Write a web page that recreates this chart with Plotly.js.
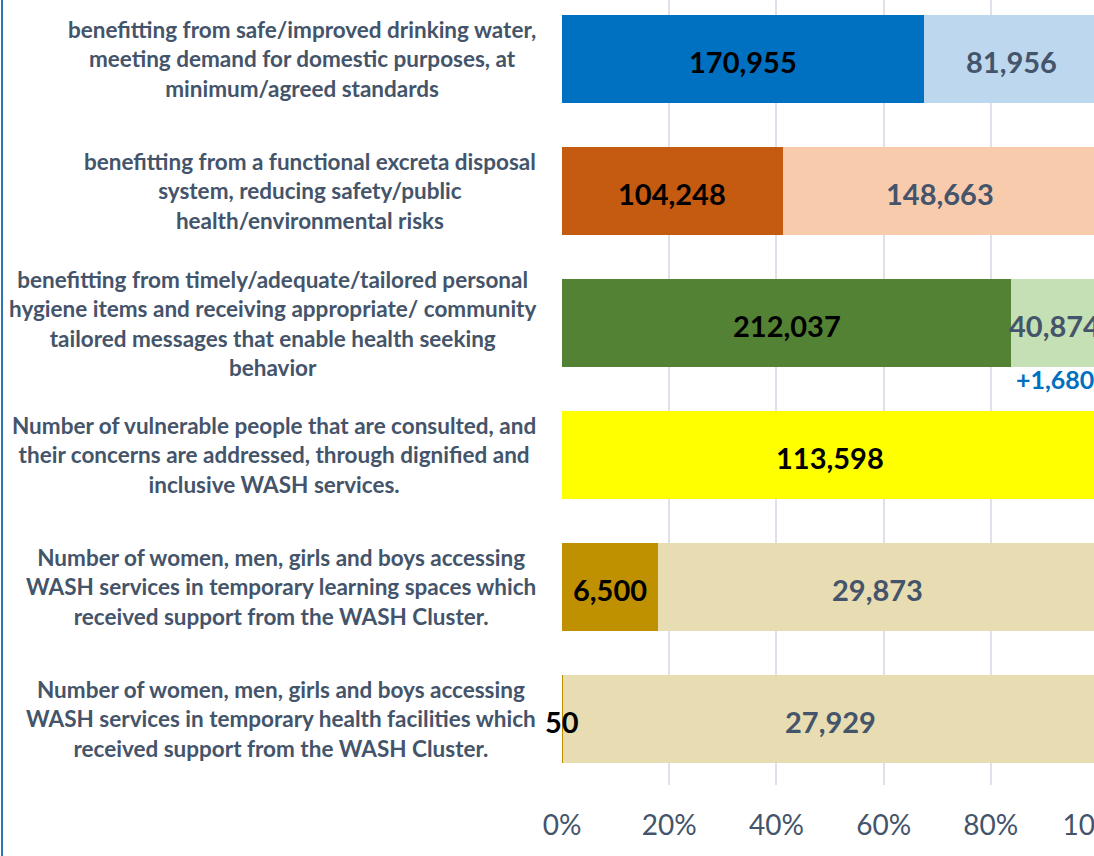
<!DOCTYPE html>
<html>
<head>
<meta charset="utf-8">
<script src="https://cdn.plot.ly/plotly-3.0.1.min.js"></script>
<style>
  html, body { margin: 0; padding: 0; width: 1094px; height: 856px; overflow: hidden; background: #fff; }
  #wrap { position: relative; width: 1094px; height: 856px; overflow: hidden; }
  #chart { position: absolute; left: 0; top: 0; width: 1100px; height: 856px; }
  #edge { position: absolute; left: 1px; top: 0; width: 2px; height: 856px; background: #2E75B6; }
</style>
</head>
<body>
<div id="wrap"><div id="chart"></div><div id="edge"></div></div>
<script>
const categories = [
  "benefitting from safe/improved drinking water,<br>meeting demand for domestic purposes, at<br>minimum/agreed standards",
  "benefitting from a functional excreta disposal<br>system, reducing safety/public<br>health/environmental risks",
  "benefitting from timely/adequate/tailored personal<br>hygiene items and receiving appropriate/ community<br>tailored messages that enable health seeking<br>behavior",
  "Number of vulnerable people that are consulted, and<br>their concerns are addressed, through dignified and<br>inclusive WASH services.",
  "Number of women, men, girls and boys accessing<br>WASH services in temporary learning spaces which<br>received support from the WASH Cluster.",
  "Number of women, men, girls and boys accessing<br>WASH services in temporary health facilities which<br>received support from the WASH Cluster."
];
const reached   = [170955, 104248, 212037, 113598, 6500, 50];
const remaining = [81956, 148663, 40874, null, 29873, 27929];
const extraIndex = 2;
const extraLabel = "+1,680";
const xTicks = [0, 0.2, 0.4, 0.6, 0.8, 1.0];
const xTickLabels = ["0%", "20%", "40%", "60%", "80%", "100%"];

const darkColors  = ["#0070C0", "#C55A11", "#548235", "#FFFF00", "#BF9000", "#BF9000"];
const lightColors = ["#BDD7EE", "#F8CBAD", "#C5E0B4", "#FFFF00", "#E7DCB2", "#E7DCB2"];

const fmt = v => (v === null ? "" : v.toLocaleString("en-US"));
const ids = categories.map((c, i) => i);
const totals = reached.map((r, i) => r + (remaining[i] || 0));

const labelFont = "Lato, 'Open Sans', sans-serif";

const traces = [
  {
    type: "bar", orientation: "h", y: ids, x: reached,
    marker: { color: darkColors, line: { width: 0 } },
    hoverinfo: "skip"
  },
  {
    type: "bar", orientation: "h", y: ids, x: remaining,
    marker: { color: lightColors, line: { width: 0 } },
    hoverinfo: "skip"
  }
];

const annotations = categories.map((c, i) => ({
  xref: "paper", yref: "y", x: 0, y: i, xanchor: "right", yanchor: "middle",
  xshift: -24, align: "center", showarrow: false, text: c,
  font: { family: labelFont, size: 22.5, color: "#44546A", weight: 700 }
}));

reached.forEach((r, i) => {
  annotations.push({
    xref: "x", yref: "y", x: (r / 2) / totals[i], y: i, yshift: -2,
    xanchor: "center", yanchor: "middle", showarrow: false, text: fmt(r),
    font: { family: labelFont, size: 29, color: "#000000", weight: 700 }
  });
});
remaining.forEach((v, i) => {
  if (v === null) return;
  annotations.push({
    xref: "x", yref: "y", x: (reached[i] + v / 2) / totals[i], y: i, yshift: -2,
    xanchor: "center", yanchor: "middle", showarrow: false, text: fmt(v),
    font: { family: labelFont, size: 29, color: "#44546A", weight: 700 }
  });
});

annotations.push({
  xref: "x", yref: "y",
  x: (reached[extraIndex] + remaining[extraIndex] / 2) / totals[extraIndex], y: extraIndex,
  yshift: -56, xanchor: "center", yanchor: "middle", showarrow: false, text: extraLabel,
  font: { family: labelFont, size: 25, color: "#0070C0", weight: 700 }
});

const layout = {
  width: 1100, height: 856,
  margin: { l: 562, r: 2, t: 0, b: 71, pad: 0 },
  paper_bgcolor: "#ffffff", plot_bgcolor: "#ffffff",
  barmode: "stack", barnorm: "fraction", bargap: 0.333,
  showlegend: false,
  xaxis: {
    range: [0, 1], tickvals: xTicks, ticktext: xTickLabels,
    showgrid: true, gridcolor: "#DDE1EA", gridwidth: 2,
    zeroline: false, showline: false, ticks: "", ticklabelstandoff: 21,
    ticklabeloverflow: "allow",
    tickfont: { family: labelFont, size: 28, color: "#44546A" },
    fixedrange: true
  },
  yaxis: {
    range: [5.5, -0.447], showticklabels: false, showgrid: false,
    zeroline: false, showline: false, ticks: "", fixedrange: true
  },
  annotations: annotations
};

Plotly.newPlot("chart", traces, layout, { staticPlot: true, displayModeBar: false });
</script>
</body>
</html>
